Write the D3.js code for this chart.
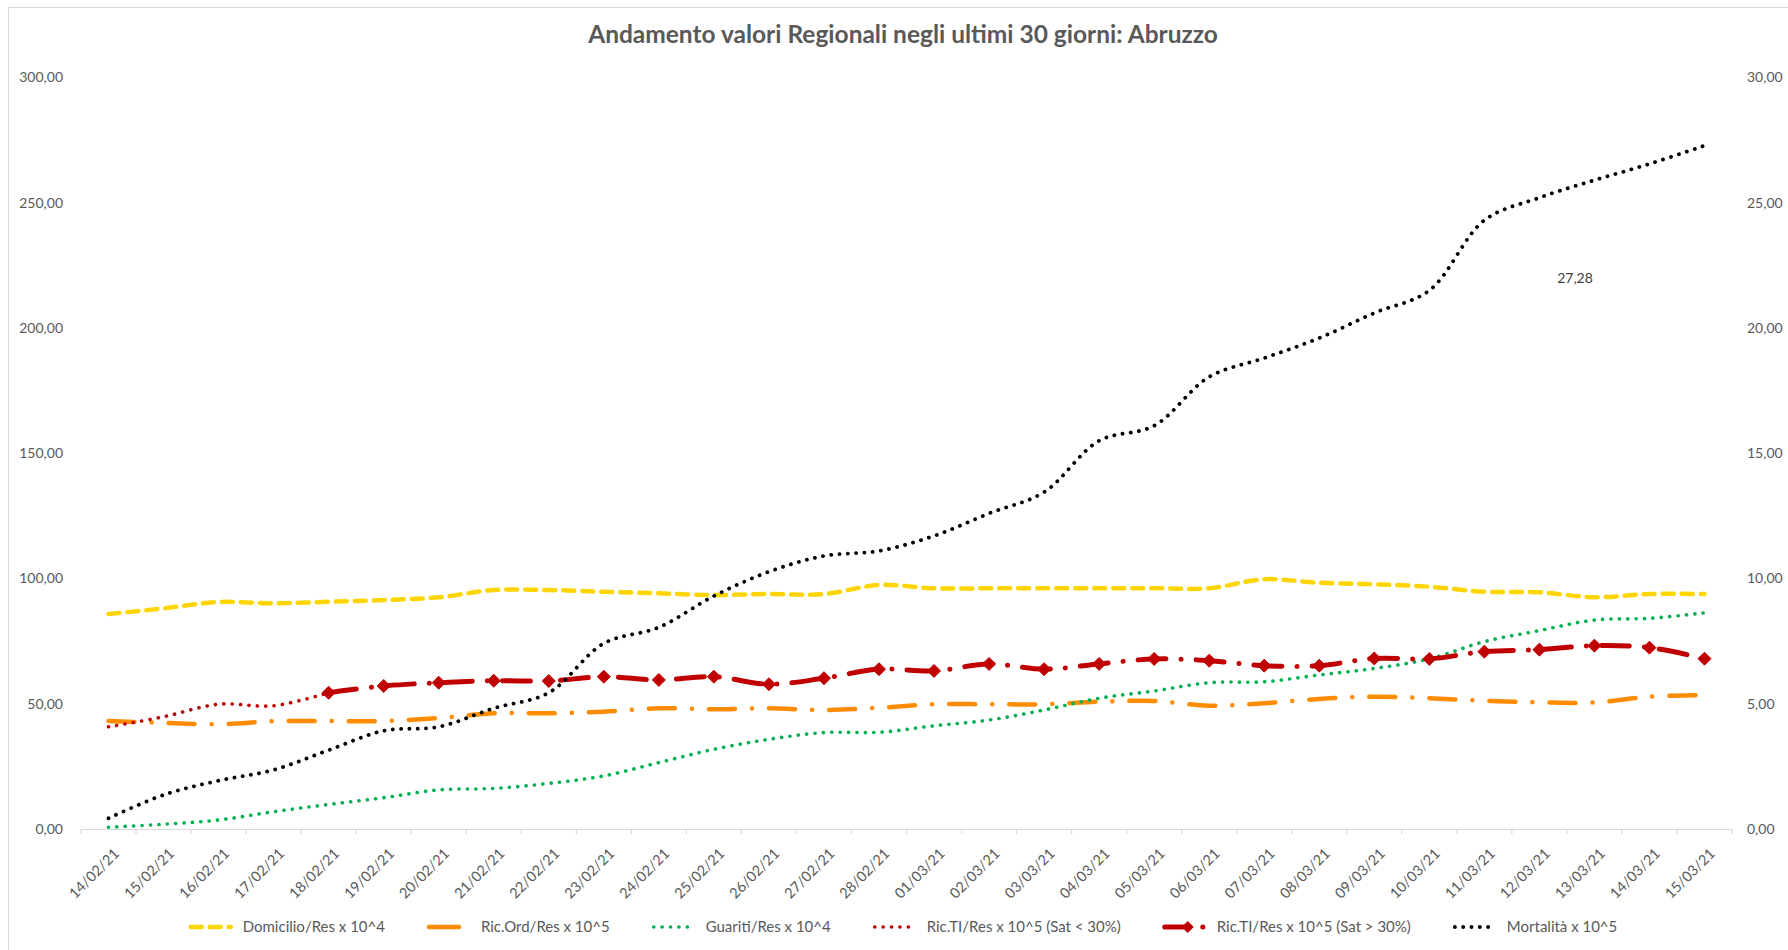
<!DOCTYPE html>
<html>
<head>
<meta charset="utf-8">
<script src="https://cdn.jsdelivr.net/npm/d3@7"></script>
<style>
  html, body { margin: 0; padding: 0; background: #ffffff; }
  svg { display: block; font-family: Lato, "Open Sans", sans-serif; }
</style>
</head>
<body>
<svg id="chart" width="1788" height="950"></svg>
<script>
// Categories: last 30 days
const dates = [
  "14/02/21","15/02/21","16/02/21","17/02/21","18/02/21","19/02/21","20/02/21","21/02/21",
  "22/02/21","23/02/21","24/02/21","25/02/21","26/02/21","27/02/21","28/02/21","01/03/21",
  "02/03/21","03/03/21","04/03/21","05/03/21","06/03/21","07/03/21","08/03/21","09/03/21",
  "10/03/21","11/03/21","12/03/21","13/03/21","14/03/21","15/03/21"
];

// Left-axis series
const domicilio = [85.8, 88.1, 90.6, 90.1, 90.7, 91.4, 92.5, 95.4, 95.4, 94.7,
                   94.1, 93.4, 93.8, 93.8, 97.4, 96.1, 96.1, 96.1, 96.1, 96.1,
                   96.1, 99.7, 98.3, 97.7, 96.7, 94.7, 94.5, 92.5, 93.8, 93.8];
const ricOrd = [43.1, 42.4, 41.8, 43.0, 43.1, 43.1, 44.3, 46.2, 46.2, 46.8,
                48.2, 47.8, 48.2, 47.5, 48.4, 49.8, 49.8, 49.8, 50.8, 51.1,
                49.2, 50.2, 51.9, 52.8, 52.2, 51.2, 50.6, 50.5, 52.8, 53.5];
const guariti = [0.7, 1.9, 3.6, 6.9, 9.8, 12.5, 15.6, 16.2, 18.2, 21.2,
                 26.5, 31.8, 35.8, 38.5, 38.6, 41.2, 43.5, 47.5, 52.2, 55.1,
                 58.4, 58.8, 61.5, 64.1, 67.9, 74.8, 79.2, 83.4, 84.1, 86.3];
const ricTIlow = [40.8, 44.8, 49.8, 49.2, 54.4, null, null, null, null, null,
                  null, null, null, null, null, null, null, null, null, null,
                  null, null, null, null, null, null, null, null, null, null];
const ricTIhigh = [null, null, null, null, 54.4, 57.1, 58.4, 59.2, 59.1, 60.8,
                   59.5, 60.8, 57.8, 60.2, 63.8, 63.1, 65.9, 63.8, 65.9, 67.9,
                   67.2, 65.2, 65.2, 68.1, 67.9, 70.8, 71.6, 73.2, 72.4, 68.0];
// Right-axis series
const mortalita = [0.43, 1.36, 1.93, 2.36, 3.15, 3.92, 4.08, 4.82, 5.44, 7.41,
                   8.05, 9.30, 10.27, 10.9, 11.1, 11.7, 12.6, 13.45, 15.5, 16.1,
                   18.05, 18.8, 19.6, 20.6, 21.5, 24.3, 25.2, 25.9, 26.55, 27.28];

const leftTicks = [0, 50, 100, 150, 200, 250, 300];
const rightTicks = [0, 5, 10, 15, 20, 25, 30];
const seriesNames = [
  "Domicilio/Res x 10^4", "Ric.Ord/Res x 10^5", "Guariti/Res x 10^4",
  "Ric.TI/Res x 10^5 (Sat < 30%)", "Ric.TI/Res x 10^5 (Sat > 30%)", "Mortalità x 10^5"
];
const titleText = "Andamento valori Regionali negli ultimi 30 giorni: Abruzzo";
const lastLabelValue = 27.28;

const TEXT = "#595959";
const AXIS = "#d9d9d9";

const svg = d3.select("#chart");

// chart frame
svg.append("rect")
  .attr("x", 8.5).attr("y", 7.5).attr("width", 1800).attr("height", 1000)
  .attr("fill", "#ffffff").attr("stroke", AXIS).attr("stroke-width", 1);

const plot = { left: 81, right: 1732, top: 77.5, bottom: 829 };

const x = d3.scaleBand().domain(dates).range([plot.left, plot.right]).padding(0);
const cx = d => x(d) + x.bandwidth() / 2;
const yL = d3.scaleLinear().domain([0, 300]).range([plot.bottom, plot.top]);
const yR = d3.scaleLinear().domain([0, 30]).range([plot.bottom, plot.top]);

const it = d3.formatLocale({ decimal: ",", thousands: ".", grouping: [3], currency: ["", " €"] });
const fmt = it.format(".2f");

// title
const title = svg.append("text")
  .attr("x", 903).attr("y", 43)
  .attr("text-anchor", "middle")
  .attr("fill", TEXT).attr("font-weight", 700).attr("font-size", 22)
  .text(titleText);
const tw = title.node().getComputedTextLength();
title.attr("font-size", 22 * 630 / tw);

// left axis
const gL = svg.append("g").attr("transform", `translate(${plot.left},0)`)
  .call(d3.axisLeft(yL).tickValues(leftTicks).tickFormat(fmt).tickSize(0).tickPadding(18));
gL.select(".domain").remove();
gL.selectAll("text").attr("fill", TEXT).attr("font-size", 14).attr("font-family", "Lato, sans-serif");

// right axis
const gR = svg.append("g").attr("transform", `translate(${plot.right},0)`)
  .call(d3.axisRight(yR).tickValues(rightTicks).tickFormat(fmt).tickSize(0).tickPadding(15));
gR.select(".domain").remove();
gR.selectAll("text").attr("fill", TEXT).attr("font-size", 14).attr("font-family", "Lato, sans-serif");

// category axis: baseline with ticks between categories
const gX = svg.append("g").attr("transform", `translate(0,${plot.bottom})`)
  .call(d3.axisBottom(x).tickSize(0).tickFormat(""));
gX.select(".domain").attr("stroke", AXIS).attr("stroke-width", 1.2);
const boundaries = dates.map(d => x(d)).concat([x(dates[dates.length - 1]) + x.bandwidth()]);
svg.append("g").selectAll("line").data(boundaries).join("line")
  .attr("x1", d => d).attr("x2", d => d)
  .attr("y1", plot.bottom).attr("y2", plot.bottom + 5)
  .attr("stroke", AXIS).attr("stroke-width", 1.2);
svg.append("g").selectAll("text").data(dates).join("text")
  .attr("transform", d => `translate(${cx(d) + 8},${plot.bottom + 22}) rotate(-45)`)
  .attr("text-anchor", "end").attr("dy", "0.35em")
  .attr("fill", TEXT).attr("font-size", 14.5)
  .text(d => d);

// series styles
const styles = [
  { data: domicilio, scale: yL, color: "#FFD500", width: 4.5, dash: "11 8", cap: "round" },
  { data: ricOrd, scale: yL, color: "#FF8C00", width: 4.5, dash: "26 17 0.1 17", cap: "round" },
  { data: guariti, scale: yL, color: "#00B050", width: 3.6, dash: "0.1 8.3", cap: "round" },
  { data: ricTIlow, scale: yL, color: "#C00000", width: 3.6, dash: "0.1 8.3", cap: "round" },
  { data: ricTIhigh, scale: yL, color: "#C00000", width: 5, dash: "28 15 0.1 15", cap: "round", marker: true },
  { data: mortalita, scale: yR, color: "#000000", width: 3.8, dash: "0.1 8.2", cap: "round" }
];

const diamond = r => `M0,${-r}L${r},0L0,${r}L${-r},0Z`;

const gLines = svg.append("g");
styles.forEach(s => {
  const line = d3.line()
    .defined(v => v != null)
    .x((v, i) => cx(dates[i]))
    .y(v => s.scale(v))
    .curve(d3.curveCatmullRom.alpha(0.5));
  gLines.append("path")
    .attr("d", line(s.data))
    .attr("fill", "none")
    .attr("stroke", s.color)
    .attr("stroke-width", s.width)
    .attr("stroke-dasharray", s.dash)
    .attr("stroke-linecap", s.cap)
    .attr("stroke-linejoin", "round");
  if (s.marker) {
    gLines.append("g").selectAll("path")
      .data(s.data.map((v, i) => ({ v, i })).filter(p => p.v != null))
      .join("path")
      .attr("transform", p => `translate(${cx(dates[p.i])},${s.scale(p.v)})`)
      .attr("d", diamond(6.5))
      .attr("fill", s.color).attr("stroke", s.color).attr("stroke-width", 1);
  }
});

// value label for the latest mortality figure
svg.append("text")
  .attr("x", 1575).attr("y", 277)
  .attr("text-anchor", "middle").attr("dominant-baseline", "central")
  .attr("fill", "#404040").attr("font-size", 14)
  .text(fmt(lastLabelValue));

// legend
const legend = svg.append("g");
const symW = 44, symGap = 10, itemGap = 42;
let cursor = 0;
seriesNames.forEach((name, i) => {
  const g = legend.append("g");
  const s = styles[i];
  g.append("line")
    .attr("x1", 2).attr("x2", symW - 2).attr("y1", 0).attr("y2", 0)
    .attr("stroke", s.color).attr("stroke-width", s.width)
    .attr("stroke-dasharray", i === 1 ? "30 14 0.1 20" : i === 4 ? "24 14 0.1 20" : s.dash)
    .attr("stroke-linecap", s.cap);
  if (s.marker) {
    g.append("path").attr("transform", "translate(25,0)").attr("d", diamond(6))
      .attr("fill", s.color);
  }
  const t = g.append("text")
    .attr("x", symW + symGap).attr("y", 0).attr("dy", "0.35em")
    .attr("fill", TEXT).attr("font-size", 15)
    .text(name);
  const w = symW + symGap + t.node().getComputedTextLength();
  g.attr("transform", `translate(${cursor},0)`);
  cursor += w + itemGap;
});
const totalW = cursor - itemGap;
legend.attr("transform", `translate(${903 - totalW / 2},927)`);
</script>
</body>
</html>
